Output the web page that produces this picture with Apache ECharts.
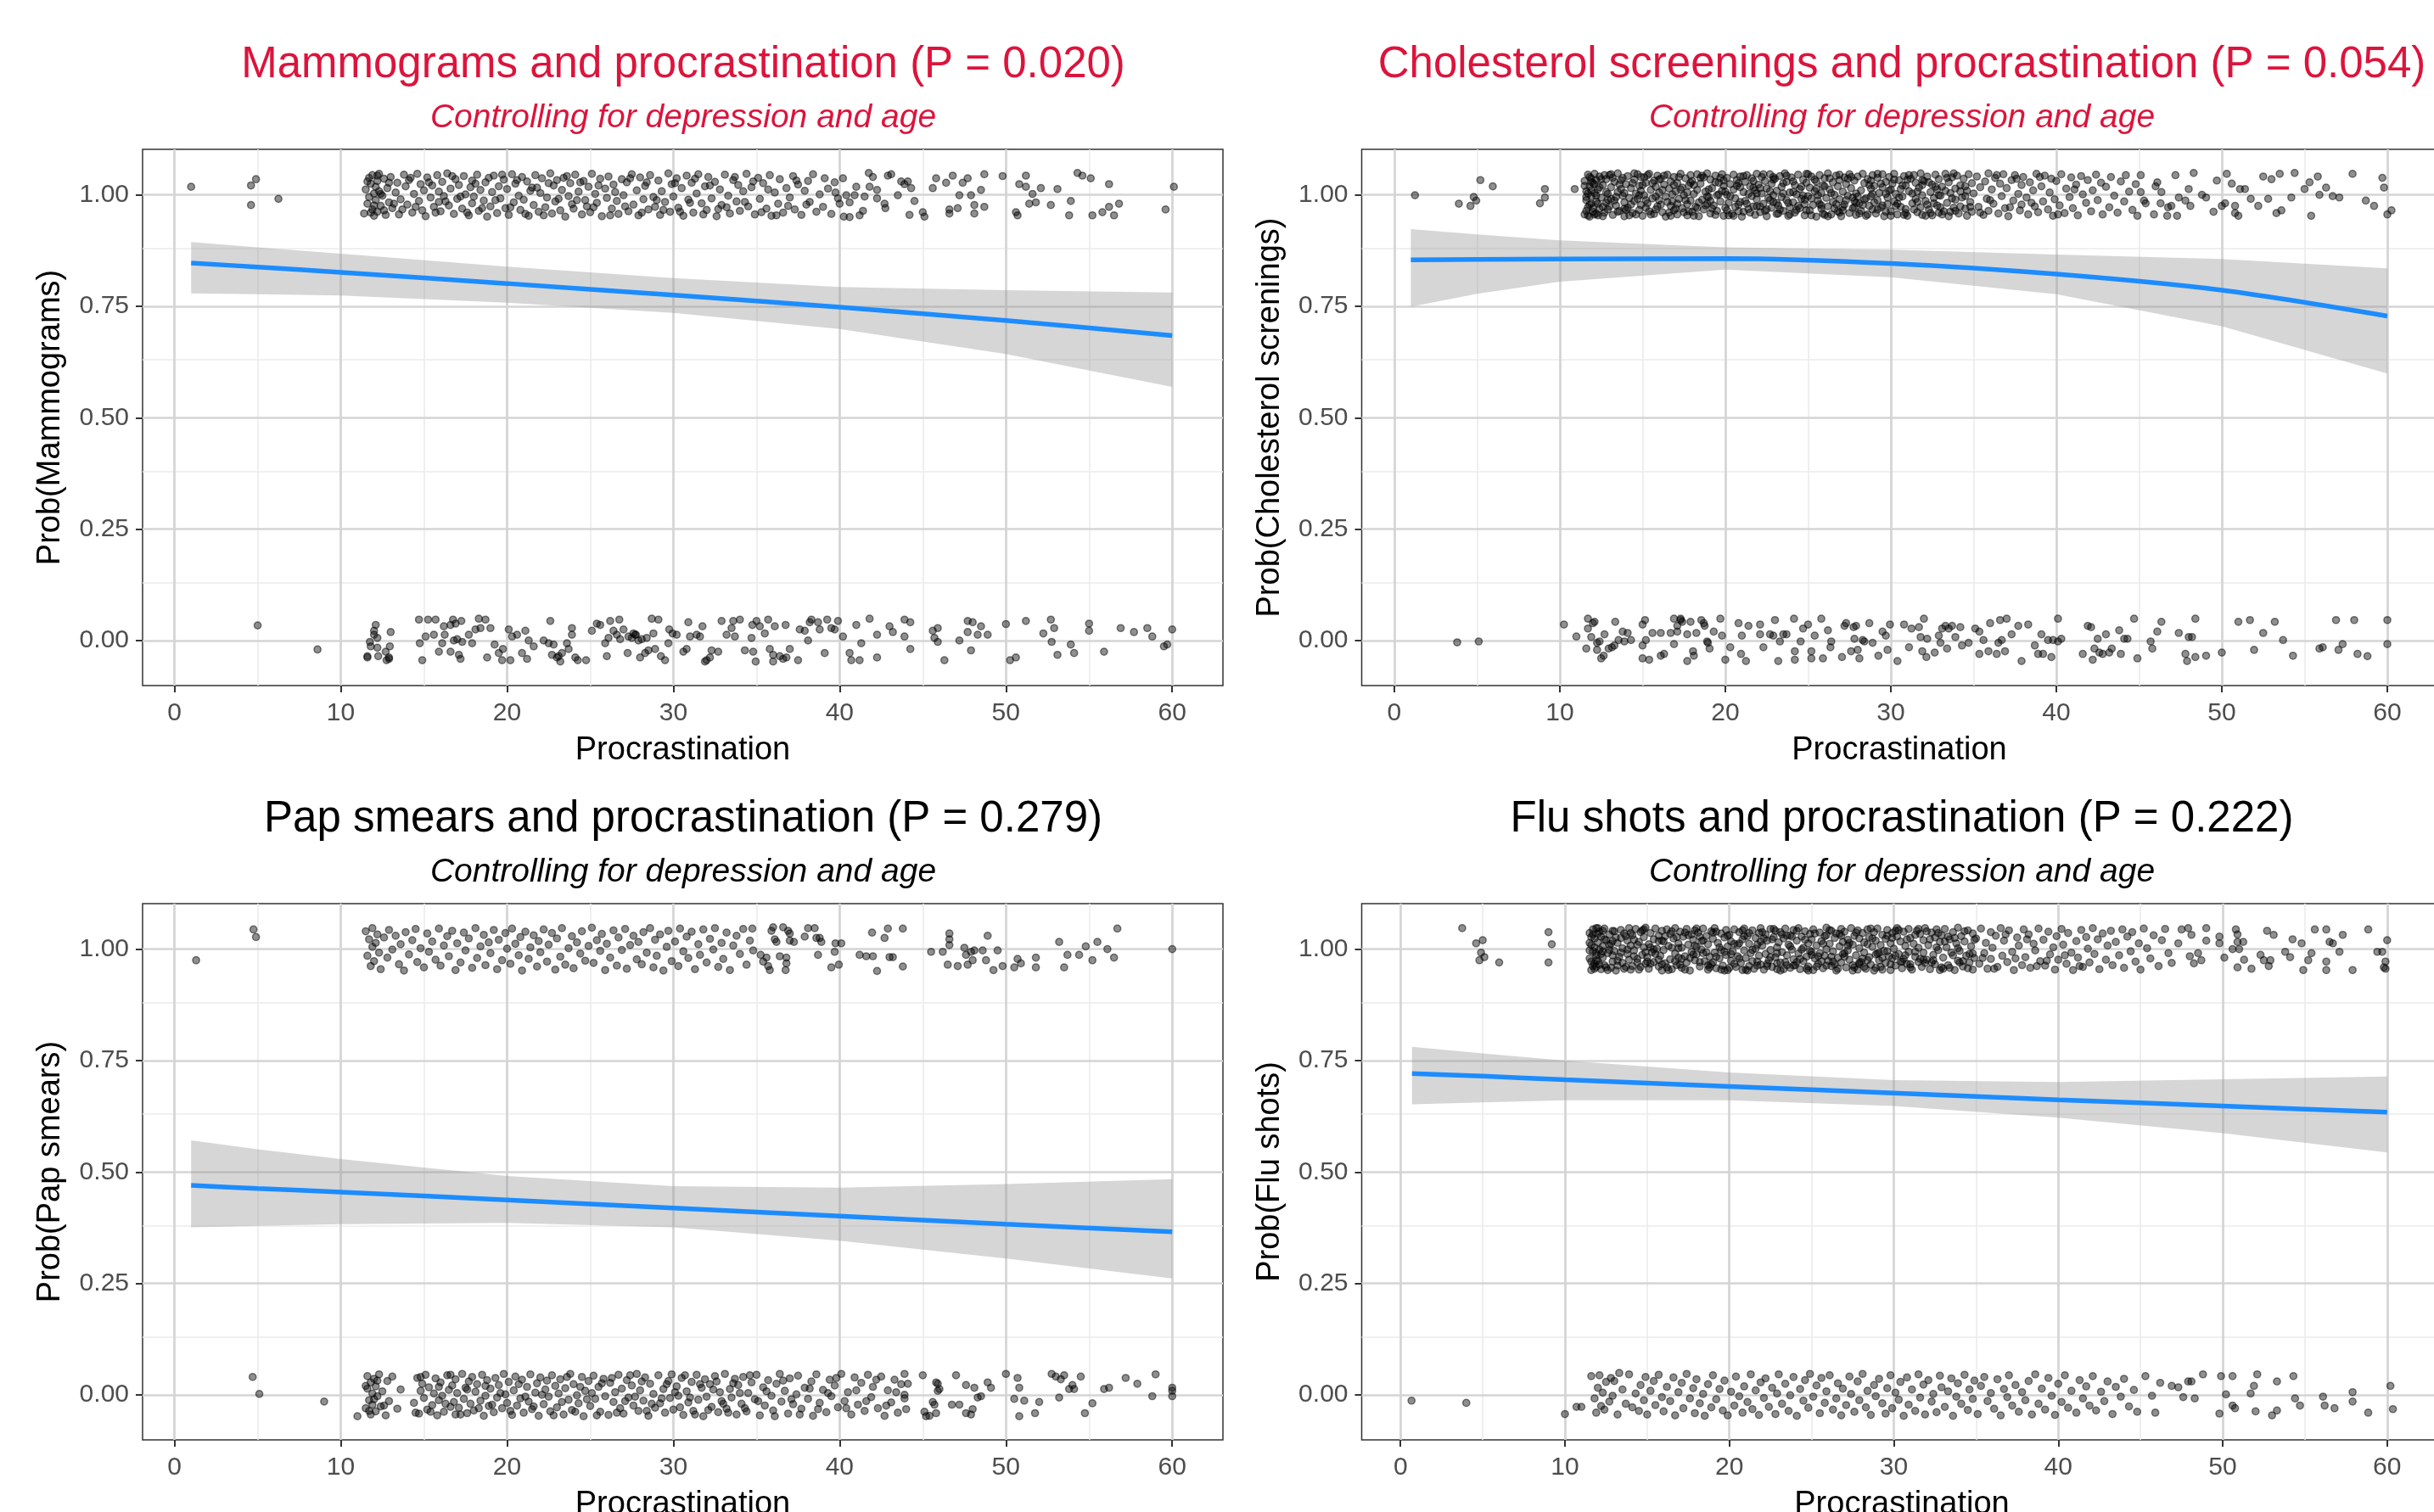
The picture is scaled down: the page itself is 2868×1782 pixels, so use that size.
<!DOCTYPE html>
<html>
<head>
<meta charset="utf-8">
<title>Screenings and procrastination</title>
<script src="https://cdn.jsdelivr.net/npm/echarts@6/dist/echarts.min.js"></script>
<style>
  html, body { margin: 0; padding: 0; background: #fff; }
  #chart { width: 2868px; height: 1782px; }
</style>
</head>
<body>
<div id="chart"></div>
<script>
// axis breaks
const xTicks = [0, 10, 20, 30, 40, 50, 60]
const xMinor = [5, 15, 25, 35, 45, 55]
const yTicks = [0, 0.25, 0.5, 0.75, 1]
const yMinor = [0.125, 0.375, 0.625, 0.875]

// fitted probability + ribbon
const fitX = [1, 5, 10, 20, 30, 40, 50, 60]
const mamFit = [0.847, 0.838, 0.826, 0.801, 0.775, 0.748, 0.718, 0.684]
const mamLo = [0.779, 0.777, 0.774, 0.758, 0.735, 0.699, 0.643, 0.569]
const mamHi = [0.894, 0.882, 0.868, 0.839, 0.813, 0.793, 0.786, 0.781]
const cholFit = [0.854, 0.855, 0.856, 0.857, 0.846, 0.822, 0.786, 0.728]
const cholLo = [0.749, 0.778, 0.805, 0.832, 0.815, 0.777, 0.705, 0.599]
const cholHi = [0.923, 0.911, 0.898, 0.882, 0.877, 0.866, 0.856, 0.835]
const papFit = [0.470, 0.463, 0.455, 0.437, 0.419, 0.401, 0.383, 0.366]
const papLo = [0.376, 0.379, 0.383, 0.386, 0.376, 0.346, 0.306, 0.261]
const papHi = [0.571, 0.551, 0.529, 0.491, 0.468, 0.465, 0.473, 0.484]
const fluFitX = [0.7, 5, 10, 20, 30, 40, 50, 60]
const fluFit = [0.721, 0.715, 0.707, 0.692, 0.677, 0.662, 0.648, 0.634]
const fluLo = [0.652, 0.656, 0.661, 0.661, 0.648, 0.622, 0.587, 0.544]
const fluHi = [0.781, 0.766, 0.750, 0.723, 0.706, 0.702, 0.708, 0.714]

// jittered responses: procrastination, offset from 1 (yes) or 0 (no) in thousandths
const mamYes = [
  1.0,18, 4.6,21, 4.9,35, 4.6,-23, 6.25,-9,
  11.4,-42, 11.5,12, 11.6,-20, 11.7,38, 11.7,-5, 11.8,25, 11.9,-33, 11.9,44, 12.0,3, 12.0,-47,
  12.1,18, 12.1,-12, 12.2,31, 12.2,-38, 12.3,8, 12.3,47, 12.4,-25, 12.5,-2, 12.6,36, 12.7,-45, 12.8,15, 12.9,-17,
  13.0,40, 13.1,-30, 13.3,5, 13.4,27, 13.5,-44, 13.6,-10, 13.8,45, 13.9,19,
  14.0,-22, 14.1,33, 14.3,-40, 14.4,2, 14.6,47, 14.7,-14, 14.8,24, 14.9,-35,
  15.0,10, 15.1,-48, 15.2,39, 15.4,-6, 15.5,21, 15.6,-27, 15.8,44, 15.9,-16, 15.9,7,
  16.0,-37, 16.1,29, 16.2,-3, 16.4,48, 16.5,-24, 16.6,14, 16.8,-43, 16.9,35,
  17.0,-9, 17.1,22, 17.3,-31, 17.4,42, 17.5,1, 17.7,-46, 17.8,17, 17.9,-19, 17.9,32,
  18.0,-4, 18.2,45, 18.3,-36, 18.4,11, 18.6,-13, 18.7,28, 18.8,-49, 18.9,38,
  19.0,-26, 19.1,6, 19.2,43, 19.4,-41, 19.5,19, 19.6,-8, 19.8,34, 19.9,-30,
  20.0,13, 20.1,-45, 20.3,46, 20.4,-17, 20.5,25, 20.7,-2, 20.8,-34, 20.9,40,
  21.0,-11, 21.2,30, 21.3,-47, 21.4,9, 21.6,-23, 21.7,44, 21.8,16, 21.9,-38,
  22.0,4, 22.1,37, 22.3,-28, 22.4,-6, 22.6,48, 22.7,-42, 22.8,21, 22.9,-15,
  23.0,33, 23.2,-35, 23.3,11, 23.5,-49, 23.6,42, 23.7,-3, 23.8,26, 23.9,-21,
  24.1,45, 24.2,-12, 24.3,7, 24.5,-44, 24.6,31, 24.8,-26, 24.9,18,
  25.0,-39, 25.1,47, 25.3,2, 25.4,-18, 25.6,36, 25.7,-48, 25.9,14,
  26.0,-7, 26.1,41, 26.3,-31, 26.4,23, 26.6,-14, 26.7,-43, 26.9,35,
  27.0,-1, 27.2,28, 27.3,-37, 27.5,46, 27.6,-22, 27.8,10, 27.9,-46,
  28.0,39, 28.2,-10, 28.3,20, 28.5,-33, 28.6,44, 28.8,-5, 28.9,-27,
  29.1,32, 29.2,-45, 29.3,8, 29.5,-16, 29.7,48, 29.8,-38, 29.9,24,
  30.0,-4, 30.2,37, 30.3,-29, 30.5,15, 30.6,-47, 30.8,43, 30.9,-11,
  31.1,27, 31.2,-40, 31.4,3, 31.5,46, 31.7,-19, 31.9,19,
  32.0,-34, 32.1,40, 32.3,-8, 32.5,29, 32.6,-48, 32.8,12, 32.9,-23,
  33.1,45, 33.3,-2, 33.4,-42, 33.6,33, 33.8,-15, 33.9,22,
  34.0,-36, 34.2,8, 34.4,47, 34.5,-26, 34.7,17, 34.9,-44,
  35.1,38, 35.2,-9, 35.4,26, 35.6,-31, 35.8,44, 35.9,-47,
  36.1,5, 36.3,-20, 36.4,35, 36.6,-40, 36.8,15,
  37.0,-6, 37.2,42, 37.3,-33, 37.5,23, 37.7,-45, 37.9,9,
  38.1,31, 38.2,-16, 38.4,46, 38.6,-38, 38.8,1,
  39.0,-27, 39.1,37, 39.3,14, 39.5,-43, 39.7,28, 39.9,-8,
  40.2,37, 40.4,-1, 40.6,-17, 41.0,18, 41.2,-46, 41.4,-36, 41.75,49, 42.0,40, 42.25,11, 42.7,-20,
  42.9,43, 43.1,46, 43.7,30, 43.9,24, 44.1,30, 44.3,15, 45.0,-39, 39.75,5, 40.0,-20, 40.25,-49,
  42.25,-8, 41.8,18, 40.9,-1, 41.5,-4, 42.75,-30, 40.6,-50, 43.5,-1, 44.5,-14,
  44.2,-45, 45.1,-49, 45.6,15, 45.8,37, 46.4,27, 46.6,-42, 46.8,43, 46.6,-33, 47.1,-30, 47.2,-1,
  47.4,27, 47.7,37, 47.9,-1, 48.1,-42, 48.1,-23, 48.5,11, 48.7,46, 48.7,-27, 49.8,42, 50.6,-39,
  50.7,-46, 50.8,24, 51.2,43, 51.2,18, 51.4,-20, 51.6,2, 51.8,-17, 52.1,15, 52.7,-23, 53.1,13,
  53.8,-46, 53.9,-14, 54.3,49, 54.6,43, 55.1,37, 55.2,-46, 55.8,-39, 56.2,24, 56.2,-27, 56.5,-46,
  56.8,-20, 59.6,-33, 60.1,18,
  11.6,30, 11.8,-40, 12.0,-24, 12.2,43, 12.4,2, 12.6,-35, 12.9,27, 13.2,-20, 13.7,-33, 14.2,38,
  14.5,-27, 15.3,28, 15.7,-40, 16.3,-15, 16.7,42, 17.2,-4, 17.6,-40, 18.1,25, 18.5,-30, 19.3,-12,
  19.7,45, 20.2,-28, 20.6,33, 21.1,-43, 21.5,16, 22.2,-46, 22.5,26, 23.1,-9, 23.4,38, 24.0,-31,
  24.4,28, 24.7,-12, 25.2,-28, 25.5,21, 26.2,-46, 26.5,6, 27.1,-26, 27.4,37, 28.1,-40, 28.4,28,
  29.0,-12, 29.4,-34, 30.1,26, 30.4,-38, 31.0,-18, 31.3,36, 31.8,-44, 32.2,21, 32.7,-32, 33.2,-28,
  33.7,40, 34.3,-16, 34.8,30, 35.3,-39, 35.7,12, 36.2,-46, 36.9,-25, 37.4,32, 38.0,-22
]
const mamNo = [
  5.0,34, 8.6,-20, 11.6,-35, 11.6,-38, 11.75,-3, 11.8,-13, 12.0,13, 12.0,22, 12.1,35, 12.2,6,
  12.2,-16, 12.25,-35, 12.7,-25, 12.75,-44, 12.9,-38, 12.95,-13, 13.0,19, 12.9,-41, 14.7,47, 14.75,-6,
  14.9,-44, 15.1,9, 15.25,47, 15.6,13, 15.7,47, 15.9,-25, 16.1,-6, 16.2,32, 16.25,13, 16.6,35,
  16.6,-25, 16.75,47, 16.8,0, 16.9,38, 17.0,3, 17.1,-32, 17.2,-41, 17.25,44, 17.3,-3, 17.7,13,
  17.9,-6, 18.1,25, 18.3,49, 18.4,28, 18.7,47, 18.8,-38, 19.0,28, 19.25,-9, 19.5,-28, 19.7,-44,
  19.75,-19, 20.1,25, 20.2,-44, 20.3,9, 20.6,13, 20.9,-28, 21.1,22, 21.2,-41, 21.3,0, 21.6,-13,
  22.2,0, 22.5,-6, 22.6,44, 22.7,-32, 22.8,-9, 23.0,-38, 23.1,-35, 23.2,-47, 23.3,-28, 23.6,-6,
  23.7,-19, 23.9,28, 23.9,13, 24.1,-38, 24.25,-44, 24.75,-44, 25.1,22, 25.4,38, 25.6,35, 25.9,-6,
  26.0,-35, 26.1,6, 26.2,44, 26.4,22, 26.6,13, 26.75,47, 26.8,3, 27.0,25, 27.25,-28, 27.3,9,
  27.5,6, 27.6,16, 27.7,13, 27.75,13, 27.9,0, 28.0,-38, 28.1,3, 28.3,-28, 28.4,6, 28.5,-22,
  28.7,49, 28.8,16, 28.9,-19, 29.1,47, 29.25,-35, 29.5,-44, 29.7,-6, 29.75,25, 29.95,16, 30.2,13,
  30.6,-25, 30.8,-19, 30.9,41, 31.0,9, 31.4,13, 31.6,9, 31.75,32, 31.9,-47, 32.0,-44, 32.2,-38,
  32.3,-22, 32.7,-25, 32.9,44, 33.2,13, 33.5,28, 33.6,44, 33.7,9, 34.0,47, 34.3,-22, 34.7,6,
  34.75,35, 34.8,-25, 34.95,-47, 35.0,44, 35.2,32, 35.5,16, 35.7,47, 35.8,-19, 36.0,-47, 36.0,-32,
  36.1,32, 36.4,-35, 36.6,-41, 36.75,35, 36.8,-38, 37.0,-19, 37.5,-44, 37.6,25, 37.9,22, 38.1,0,
  38.2,41, 38.3,47, 38.7,41, 38.8,25, 39.1,-28, 39.25,47, 39.5,28, 39.7,25, 39.9,44, 40.2,9,
  40.6,-28, 40.7,-44, 41.0,35, 41.2,-44, 41.3,-6, 41.8,49, 42.25,-38, 42.25,13, 43.0,32, 43.2,19,
  43.9,47, 43.9,9, 44.25,41, 44.25,-19, 45.6,22, 45.7,6, 45.9,28, 45.9,-3, 46.3,-44, 47.2,0,
  47.7,44, 47.7,19, 47.9,-22, 48.0,41, 48.3,13, 48.5,32, 48.9,13, 50.0,37, 50.25,-44, 50.6,-38,
  51.2,44, 52.25,16, 52.7,47, 52.75,-3, 52.9,28, 53.1,-32, 53.9,-9, 54.1,-28, 55.0,38, 55.0,22,
  55.9,-25, 56.9,28, 57.7,19, 58.5,28, 58.8,9, 59.5,-13, 59.7,-9, 60.0,25
]
const cholYes = [
  1.25,-1, 3.9,-20, 4.6,-25, 4.8,-5, 4.95,-13, 5.2,33, 5.95,19, 8.8,-19, 9.1,13, 9.1,-6, 10.9,13,
  11.5,-44, 11.5,31, 11.6,-12, 11.6,8, 11.7,45, 11.7,-28, 11.8,19, 11.8,-49, 11.9,-3, 11.9,37, 11.9,-20,
  12.0,26, 12.0,-38, 12.1,4, 12.1,47, 12.2,-15, 12.2,33, 12.3,-46, 12.3,12, 12.4,-31, 12.4,41, 12.5,-6, 12.6,22, 12.7,-40, 12.8,35, 12.8,-18, 12.9,2, 12.9,-33,
  13.0,44, 13.1,-9, 13.1,17, 13.2,-45, 13.3,29, 13.4,-24, 13.5,6, 13.5,48, 13.6,-36, 13.7,13, 13.8,-2, 13.8,38, 13.9,-17, 13.9,-48,
  14.0,24, 14.1,-29, 14.1,42, 14.2,-7, 14.3,15, 14.4,-41, 14.5,34, 14.5,-14, 14.6,3, 14.7,46, 14.8,-34, 14.8,20, 14.9,-23, 14.9,9,
  15.0,-47, 15.1,39, 15.1,-1, 15.2,27, 15.3,-19, 15.4,47, 15.4,-37, 15.5,11, 15.6,-8, 15.7,32, 15.7,-43, 15.8,18, 15.9,-26, 15.9,43,
  16.0,-12, 16.0,5, 16.1,36, 16.2,-39, 16.3,23, 16.4,-4, 16.4,-49, 16.5,45, 16.6,14, 16.7,-25, 16.7,30, 16.8,-15, 16.9,40, 16.9,-35,
  17.0,8, 17.1,-44, 17.1,26, 17.2,-9, 17.3,47, 17.4,-30, 17.4,16, 17.5,-1, 17.6,37, 17.7,-21, 17.7,-46, 17.8,21, 17.9,44, 17.9,-13,
  18.0,-38, 18.0,31, 18.1,2, 18.2,-27, 18.3,46, 18.3,11, 18.4,-48, 18.5,25, 18.6,-11, 18.7,39, 18.7,-33, 18.8,7, 18.9,-20, 18.9,48,
  19.0,-5, 19.1,34, 19.1,-42, 19.2,15, 19.3,-24, 19.4,43, 19.5,-1, 19.5,-36, 19.6,27, 19.7,-15, 19.8,9, 19.8,46, 19.9,-47, 19.9,20,
  20.0,-29, 20.1,38, 20.1,0, 20.2,-18, 20.3,24, 20.4,-43, 20.5,45, 20.5,12, 20.6,-8, 20.7,33, 20.8,-37, 20.8,-22, 20.9,17, 20.9,41,
  21.0,-49, 21.1,6, 21.2,29, 21.2,-14, 21.3,44, 21.4,-32, 21.5,19, 21.6,-3, 21.6,37, 21.7,-26, 21.8,10, 21.8,-45, 21.9,47, 21.9,-10,
  22.0,23, 22.1,-39, 22.2,3, 22.2,40, 22.3,-20, 22.4,31, 22.5,-48, 22.5,14, 22.6,-7, 22.7,46, 22.8,-29, 22.8,25, 22.9,-16, 22.9,-1,
  23.0,36, 23.1,-43, 23.1,9, 23.2,-24, 23.3,42, 23.4,-5, 23.4,18, 23.5,-36, 23.6,48, 23.7,-12, 23.7,29, 23.8,-47, 23.9,5, 23.9,-28,
  24.0,39, 24.1,-17, 24.2,22, 24.2,-40, 24.3,1, 24.4,45, 24.5,-30, 24.5,13, 24.6,-9, 24.7,34, 24.8,-46, 24.8,-21, 24.9,27, 24.9,47,
  25.0,-3, 25.1,-35, 25.1,16, 25.2,41, 25.3,-23, 25.4,8, 25.5,-49, 25.5,30, 25.6,-13, 25.7,44, 25.8,-31, 25.8,4, 25.9,21, 25.9,-42,
  26.0,37, 26.1,-7, 26.2,-26, 26.2,48, 26.3,12, 26.4,-44, 26.5,28, 26.5,-16, 26.6,0, 26.7,43, 26.8,-37, 26.8,19, 26.9,-10, 26.9,33,
  27.0,-48, 27.1,7, 27.2,39, 27.2,-22, 27.3,24, 27.4,-2, 27.5,-41, 27.5,46, 27.6,15, 27.7,-30, 27.8,32, 27.8,-14, 27.9,3, 27.9,-45,
  28.0,41, 28.1,-19, 28.2,10, 28.2,-36, 28.3,47, 28.4,26, 28.5,-8, 28.5,-47, 28.6,35, 28.7,-25, 28.8,14, 28.8,-3, 28.9,44, 28.9,-33,
  29.0,20, 29.1,-42, 29.2,38, 29.2,-12, 29.3,4, 29.4,-28, 29.5,46, 29.5,17, 29.6,-48, 29.7,29, 29.8,-6, 29.8,-21, 29.9,40, 29.9,9,
  30.0,-37, 30.1,25, 30.2,-15, 30.2,47, 30.3,2, 30.4,-44, 30.5,33, 30.6,-27, 30.6,13, 30.7,-4, 30.8,42, 30.9,-32, 30.9,21,
  31.0,-47, 31.1,8, 31.2,36, 31.3,-19, 31.4,44, 31.5,-9, 31.5,27, 31.6,-39, 31.7,16, 31.8,-28, 31.8,48, 31.9,-1, 31.9,-45,
  32.0,31, 32.1,-14, 32.2,41, 32.3,-33, 32.4,6, 32.5,-46, 32.5,23, 32.6,-7, 32.7,45, 32.8,-24, 32.8,12, 32.9,-40, 32.9,35,
  33.0,-2, 33.1,18, 33.2,-37, 33.3,47, 33.4,-18, 33.5,28, 33.5,-48, 33.6,4, 33.7,39, 33.8,-29, 33.9,14, 33.9,-11,
  34.0,43, 34.1,-42, 34.2,21, 34.3,-6, 34.4,36, 34.5,-31, 34.6,9, 34.6,-47, 34.7,46, 34.8,-16, 34.9,26, 34.9,-38,
  35.0,3, 35.2,41, 35.3,-27, 35.4,17, 35.6,-45, 35.7,30, 35.8,-9, 35.9,48, 35.9,-36,
  36.1,12, 36.2,-20, 36.3,38, 36.5,-42, 36.6,25, 36.7,-3, 36.8,46, 36.9,-30,
  37.0,15, 37.1,-48, 37.3,33, 37.4,-13, 37.5,44, 37.7,2, 37.8,-35, 37.9,22, 37.9,-22,
  38.0,40, 38.2,-6, 38.3,-44, 38.4,28, 38.6,10, 38.7,-26, 38.8,47, 38.9,-39,
  39.1,19, 39.2,-15, 39.3,43, 39.5,-33, 39.6,5, 39.7,36, 39.8,-47, 39.9,-10,
  40.0,31, 40.2,-24, 40.3,46, 40.5,-41, 40.6,14, 40.8,-5, 40.9,39,
  41.0,-30, 41.2,23, 41.3,-46, 41.5,42, 41.6,1, 41.8,-18, 41.9,33,
  42.1,-37, 42.2,10, 42.4,45, 42.5,-12, 42.7,27, 42.8,-44,
  43.0,18, 43.2,-28, 43.3,40, 43.5,-2, 43.7,-40, 43.9,30,
  44.1,-15, 44.2,44, 44.4,7, 44.6,-34, 44.8,24, 44.9,-47,
  45.1,44, 45.1,6, 45.3,-13, 45.4,-19, 45.9,-44, 46.0,19, 46.1,28, 46.3,-19, 46.35,6, 46.7,-47,
  46.75,-28, 46.95,-25, 47.2,44, 47.3,-47, 47.4,-6, 47.8,-13, 48.0,13, 48.1,-25, 48.3,49, 48.8,0,
  49.05,-6, 49.5,-38, 49.7,32, 50.0,-25, 50.2,-19, 50.3,47, 50.6,25, 50.8,-25, 50.8,-41, 51.0,-47,
  51.1,13, 51.4,13, 51.75,-9, 52.2,-25, 52.5,41, 52.8,-9, 53.0,35, 53.3,-41, 53.5,47, 53.6,-35,
  54.2,-6, 54.4,49, 55.0,13, 55.3,28, 55.4,-47, 55.8,41, 55.9,0, 56.3,16, 56.7,-3, 57.1,-6,
  57.9,47, 58.7,-13, 59.2,-25, 59.7,38, 59.8,16, 60.0,-44, 60.25,-35,
  11.6,-36, 11.7,3, 11.8,-22, 11.9,29, 12.1,-44, 12.2,-2, 12.4,17, 12.6,-27, 12.7,44, 12.9,-11,
  13.2,38, 13.4,-5, 13.6,23, 13.9,-31, 14.2,-46, 14.4,26, 14.7,-9, 14.9,40, 15.2,-29, 15.5,-44,
  15.8,-4, 16.1,-22, 16.3,43, 16.6,-40, 16.8,1, 17.0,-31, 17.3,12, 17.6,-12, 17.8,-37, 18.1,22,
  18.4,-17, 18.6,43, 18.9,-4, 19.2,-31, 19.4,28, 19.7,38, 20.0,7, 20.2,-46, 20.6,-27, 20.8,26,
  21.1,-38, 21.4,2, 21.7,16, 21.9,-26, 22.1,15, 22.4,-36, 22.7,-12, 22.9,34, 23.2,-42, 23.5,26,
  23.8,-18, 24.1,6, 24.4,-25, 24.7,-2, 24.9,-35, 25.2,-8, 25.5,14, 25.7,-21, 26.0,-45, 26.3,37,
  26.6,-31, 26.9,-40, 27.1,-27, 27.4,36, 27.7,-6, 27.9,-18, 28.1,-42, 28.4,-11, 28.7,22, 28.9,2,
  29.2,-33, 29.4,25, 29.7,-38, 30.0,12, 30.3,-25, 30.5,-6, 30.8,-45, 31.0,34, 31.3,3, 31.6,-16,
  31.9,22, 32.2,-22, 32.4,-41, 32.7,18, 33.0,-28, 33.3,9, 33.6,-38, 33.8,48, 34.2,-26, 34.5,-3,
  11.5,20, 11.6,-5, 11.7,-46, 11.8,40, 11.9,10, 12.0,-30, 12.1,24, 12.2,-42, 12.3,-20, 12.5,35,
  12.6,-48, 12.8,6, 13.0,-26, 13.1,46, 13.3,-13, 13.5,-38, 13.7,33, 13.9,4, 14.0,-34, 14.3,-22,
  14.5,48, 14.6,-44, 14.8,-1, 15.0,22, 15.2,-12, 15.3,44, 15.6,26, 15.8,-33, 16.0,34, 16.2,11,
  16.5,-16, 16.7,-47, 16.9,22, 17.1,-20, 17.2,40, 17.5,-39, 17.7,5, 17.9,27, 18.1,-47, 18.3,-30,
  18.5,38, 18.8,-24, 19.0,12, 19.1,-14, 19.4,-45, 19.6,1, 19.9,32, 20.1,-35, 20.3,-3, 20.5,-47,
  20.7,20, 20.9,-16, 21.1,42, 21.3,-20, 21.5,-40, 21.7,31, 21.9,3, 22.1,-26, 22.3,46, 22.5,-33,
  22.7,8, 22.9,40, 23.1,-18, 23.3,-33, 23.5,3, 23.7,43, 23.9,-44, 24.1,30, 24.3,-34, 24.6,18,
  24.8,-11, 25.0,46, 25.2,-46, 25.4,34, 25.6,-1, 25.8,-24, 26.0,19, 26.2,-48, 26.4,4, 26.7,-21,
  26.9,45, 27.1,-35, 27.3,-12, 27.6,40, 27.8,-28, 28.0,-4, 28.3,-23, 28.6,-44, 28.8,32, 29.0,-17,
  29.2,47, 29.5,-24, 29.7,2, 30.0,-47, 30.2,34, 30.4,-20, 30.7,21, 30.9,-41, 31.1,44, 31.4,-33,
  31.6,7, 31.9,33, 32.1,-47, 32.3,28, 32.6,-19, 32.9,-1, 33.1,-44, 33.4,38, 33.7,-8, 33.9,-36,
  34.2,8, 34.5,19, 34.8,-27, 35.4,-40, 36.0,-12, 36.4,44, 37.2,-28, 37.6,36, 38.5,-18, 39.0,40,
  40.1,-44, 41.1,12
]
const cholNo = [
  3.8,-4, 5.1,-2, 10.25,36, 11.0,9,
  11.7,49, 11.7,27, 11.6,-18, 11.9,8, 12.0,39, 12.1,42, 12.25,-5, 12.25,-21, 12.4,-2, 12.5,-40,
  12.65,-34, 12.7,14, 12.95,-18, 13.15,-15, 13.3,-11, 13.35,42, 13.55,1, 13.8,20, 13.9,-2, 14.1,17,
  14.3,1, 15.0,36, 15.0,-11, 15.0,-40, 15.15,46, 15.2,1, 15.4,-43, 15.6,17, 16.1,17, 16.1,-34,
  16.3,-30, 16.7,17, 16.9,49, 16.9,-8, 17.1,33, 17.1,20, 17.3,49, 17.3,46, 17.4,42, 17.7,14,
  17.7,-46, 17.9,42, 18.05,-24, 18.1,-34, 18.25,17, 18.55,46, 18.7,39, 18.75,33, 18.9,-2, 18.95,-5,
  19.05,-18, 19.3,20, 19.7,49, 19.8,11, 20.0,-43, 20.3,-15, 20.8,39, 20.95,-30, 21.0,11, 21.25,-46,
  21.4,33, 22.1,36, 22.1,14, 22.3,-15, 22.7,14, 22.9,11, 23.0,46, 23.2,-46, 23.3,-2, 23.5,14,
  23.7,14, 24.15,49, 24.2,-24, 24.2,-43, 24.55,-2, 24.7,27, 25.0,36, 25.2,-24, 25.2,-40, 25.4,11,
  25.8,49, 25.9,-40, 26.2,23, 26.35,-15, 26.4,-2, 27.05,-37, 27.2,33, 27.3,39, 27.6,-24, 27.75,30,
  27.8,4, 27.9,33, 28.0,-21, 28.1,-40, 28.3,1, 28.4,-2, 28.7,39, 28.9,-5, 29.25,-34, 29.5,20,
  29.7,11, 29.8,-21, 29.95,36, 30.4,-46, 30.8,36, 31.1,-15, 31.25,27, 31.7,30, 31.8,8, 31.9,-24,
  32.0,49, 32.15,-37, 32.2,4, 32.65,-27, 32.9,11, 33.0,-5, 33.1,27, 33.3,33, 33.4,-18, 33.5,27,
  33.7,33, 33.9,8, 34.2,30, 34.3,-11, 34.7,-5, 35.1,27, 35.35,-30, 35.35,20, 35.6,1, 35.9,-24,
  36.0,39, 36.4,-30, 36.5,-5, 36.6,46, 36.7,1, 36.9,-24, 37.0,49, 37.3,14, 37.7,33, 37.9,-46,
  38.3,36, 38.7,-11, 38.9,-30, 39.1,14, 39.2,-30, 39.5,1, 39.7,-37, 39.8,1, 40.1,-2, 40.1,49,
  40.3,4, 41.6,-30, 41.9,33, 42.1,30, 42.2,-43, 42.3,-18, 42.5,4, 42.6,-27, 42.8,-30, 43.0,14,
  43.2,-27, 43.35,-18, 43.8,23, 43.9,-30, 44.1,4, 44.3,4, 44.7,49, 44.9,-40, 45.7,-2, 45.8,-18,
  46.1,20, 46.35,42, 47.4,17, 47.8,-30, 48.0,8, 48.2,8, 47.9,-46, 48.4,-37, 48.4,49, 49.05,-34,
  50.0,-27, 51.0,42, 51.7,46, 51.95,-21, 52.5,17, 53.2,42, 53.7,1, 54.3,-34, 55.9,-18, 56.1,-15,
  57.05,-21, 56.9,46, 57.3,-8, 58.0,46, 58.2,-30, 58.8,-35, 60.0,46, 60.0,-8
]
const papYes = [
  1.3,-25, 4.75,44, 4.9,27,
  11.5,40, 11.6,-15, 11.7,22, 11.8,-38, 11.9,5, 11.9,47,
  12.0,-27, 12.1,14, 12.2,33, 12.3,-8, 12.4,-45, 12.6,26, 12.8,-19, 12.9,43,
  13.1,-1, 13.3,30, 13.5,-34, 13.6,11, 13.8,-48, 13.9,38,
  14.1,-12, 14.3,20, 14.5,45, 14.6,-29, 14.8,2,
  15.0,-41, 15.2,35, 15.3,-6, 15.5,17, 15.7,-24, 15.9,46,
  16.0,-37, 16.2,8, 16.4,29, 16.5,-16, 16.7,41, 16.9,-47,
  17.0,13, 17.2,-30, 17.4,37, 17.5,-3, 17.7,24, 17.9,-42,
  18.1,47, 18.2,-20, 18.4,6, 18.6,32, 18.7,-36, 18.9,15,
  19.0,-9, 19.2,43, 19.4,-45, 19.5,21, 19.7,-25, 19.9,36,
  20.0,1, 20.2,-33, 20.3,46, 20.5,12, 20.7,-14, 20.8,27, 20.9,-48,
  21.1,39, 21.3,-22, 21.4,4, 21.6,31, 21.8,-39, 21.9,18,
  22.0,-7, 22.2,44, 22.4,-28, 22.5,10, 22.7,36, 22.9,-46,
  23.0,24, 23.2,-17, 23.3,47, 23.5,-35, 23.7,2, 23.9,29,
  24.0,-43, 24.2,15, 24.4,-10, 24.5,40, 24.7,-26, 24.9,7,
  25.1,48, 25.2,-31, 25.4,20, 25.6,-4, 25.7,34, 25.9,-47,
  26.0,12, 26.2,-19, 26.4,42, 26.6,-37, 26.7,26, 26.9,-2,
  27.1,45, 27.2,-44, 27.4,9, 27.6,30, 27.8,-23, 27.9,16,
  28.1,-34, 28.2,38, 28.4,-8, 28.6,47, 28.8,-41, 28.9,21,
  29.0,-15, 29.2,33, 29.4,-48, 29.6,5, 29.7,41, 29.9,-27,
  30.1,17, 30.3,-38, 30.4,46, 30.6,-5, 30.8,28, 30.9,-20,
  31.1,39, 31.3,-45, 31.5,11, 31.6,-13, 31.8,44,
  32.0,-30, 32.2,23, 32.4,-1, 32.5,47, 32.7,-40, 32.9,14,
  33.0,-22, 33.2,37, 33.4,-47, 33.6,8, 33.8,30,
  34.0,-11, 34.2,45, 34.4,-35, 34.6,19, 34.8,-3,
  34.75,46, 35.25,-13, 35.4,-28, 35.6,-19, 35.7,-38, 35.8,-47, 35.9,41, 36.0,49, 36.1,22, 36.2,16,
  36.4,-16, 36.6,49, 36.75,-47, 36.8,-19, 36.8,-32, 36.9,41, 37.0,35, 37.0,19, 37.25,16, 37.9,28,
  38.1,47, 38.5,47, 38.6,25, 38.7,-13, 38.8,25, 38.9,16, 39.5,-41, 39.7,-6, 39.75,13, 39.95,-35,
  40.1,13, 41.2,-13, 41.6,-16, 42.0,-16, 41.95,37, 42.25,-49, 42.7,25, 42.9,46, 43.0,-18, 43.2,-18,
  43.8,-39, 43.8,46, 45.5,-6, 46.2,-6, 46.5,-35, 46.6,35, 46.6,22, 46.6,9, 47.1,-38, 47.5,3,
  47.6,-13, 47.7,-35, 47.9,-6, 48.0,-25, 48.1,-3, 48.6,-3, 48.8,-25, 48.9,30, 49.25,-47, 49.5,-3,
  49.8,-38, 50.5,-41, 50.7,-22, 50.9,-32, 51.8,-19, 51.8,-41, 53.2,16, 53.5,-41, 53.7,-13, 54.4,-13,
  54.8,6, 55.2,-25, 55.5,16, 56.1,0, 56.5,-19, 56.7,46, 60.0,0
]
const papNo = [
  4.7,40, 5.1,2, 9.0,-15, 11.0,-48,
  11.5,-30, 11.6,14, 11.6,42, 11.7,-12, 11.8,28, 11.8,-44, 11.9,3, 11.9,-22,
  12.0,36, 12.1,-37, 12.1,19, 12.2,-3, 12.3,46, 12.4,-26, 12.5,8, 12.7,-46, 12.8,31, 12.9,-14,
  13.1,41, 13.4,-31, 13.6,12,
  14.4,-18, 14.6,38, 14.7,-42, 14.8,9, 14.9,25,
  15.0,-7, 15.1,45, 15.2,-33, 15.3,17, 15.5,-23, 15.6,3, 15.7,37, 15.8,-46, 15.9,-12,
  16.0,28, 16.1,-2, 16.2,-38, 16.4,44, 16.5,11, 16.6,-27, 16.7,21, 16.8,-16, 16.9,-44, 16.9,35,
  17.0,4, 17.1,-29, 17.3,47, 17.4,-9, 17.5,16, 17.6,-41, 17.7,30, 17.8,-20, 17.9,40,
  18.0,-35, 18.1,7, 18.2,24, 18.4,-13, 18.5,45, 18.6,-47, 18.7,-2, 18.8,33, 18.9,-25,
  19.0,14, 19.2,-39, 19.3,38, 19.4,-6, 19.5,22, 19.7,-30, 19.8,47, 19.9,1,
  20.0,-18, 20.1,29, 20.3,-45, 20.4,10, 20.5,41, 20.6,-24, 20.8,-8, 20.9,34,
  21.0,-40, 21.2,18, 21.3,-15, 21.4,46, 21.5,-32, 21.7,5, 21.8,26, 21.9,-47,
  22.0,39, 22.2,-21, 22.3,12, 22.5,-4, 22.6,-37, 22.7,44, 22.9,20,
  23.0,-28, 23.1,3, 23.2,35, 23.4,-44, 23.5,15, 23.7,-11, 23.8,47, 23.9,-34,
  24.0,24, 24.2,-1, 24.3,-19, 24.5,40, 24.6,-48, 24.7,9, 24.9,31,
  25.0,-25, 25.2,43, 25.3,-9, 25.5,18, 25.6,-38, 25.8,36, 25.9,-3,
  26.1,-45, 26.2,27, 26.4,-16, 26.5,6, 26.7,45, 26.8,-30, 26.9,14,
  27.0,-42, 27.2,33, 27.3,-6, 27.5,21, 27.6,-24, 27.8,47, 27.9,-36,
  28.0,10, 28.2,-13, 28.3,39, 28.5,-47, 28.6,25, 28.8,2, 28.9,-29,
  29.1,44, 29.2,-19, 29.4,13, 29.5,-40, 29.7,31, 29.8,-7, 29.9,46,
  30.0,-33, 30.2,19, 30.3,-2, 30.5,38, 30.6,-45, 30.8,8, 30.9,-17,
  31.1,29, 31.2,-36, 31.4,45, 31.5,-11, 31.7,16, 31.8,-48, 31.9,35,
  32.0,-4, 32.2,24, 32.3,-27, 32.5,42, 32.7,-39, 32.8,6, 32.9,-14,
  33.1,47, 33.2,-31, 33.4,13, 33.5,-6, 33.7,36, 33.8,-44, 33.9,22,
  34.1,-20, 34.2,40, 34.4,-37, 34.5,4, 34.7,28, 34.9,-10,
  35.0,45, 35.2,-46, 35.4,17, 35.5,-24, 35.7,33, 35.9,-2,
  36.0,-35, 36.2,25, 36.4,47, 36.5,-15, 36.7,9, 36.9,-42,
  37.0,37, 37.2,-21, 37.4,1, 37.5,43, 37.7,-31, 37.9,16,
  38.1,-9, 38.3,30, 38.4,-47, 38.6,46, 38.8,-18,
  39.0,11, 39.2,-39, 39.4,34, 39.5,-3, 39.7,21, 39.9,-28,
  40.1,47, 40.3,-14, 40.5,6, 40.7,-44, 40.9,39,
  41.1,-22, 41.3,27, 41.5,-36, 41.7,45, 41.9,-5,
  42.0,18, 42.3,-30, 42.5,41, 42.7,-47, 42.9,10,
  43.1,-17, 43.3,34, 43.5,-40, 43.7,24, 43.9,-8,
  43.9,47, 44.1,25, 43.9,0, 44.0,-32, 45.0,44, 45.1,-38, 45.2,-48, 45.4,-47, 45.6,-16, 45.7,-22,
  45.8,28, 45.9,25, 45.9,9, 46.0,13, 45.8,-41, 46.75,-22, 47.2,-22, 47.0,44, 47.6,22, 47.6,-41,
  47.9,-44, 48.0,-32, 48.1,16, 48.5,-3, 48.3,-6, 49.1,16, 48.9,28, 50.0,47, 50.5,-9, 50.7,38,
  50.8,16, 50.8,-48, 51.1,-13, 51.75,-41, 52.0,-16, 52.75,47, 53.0,41, 53.2,-6, 53.3,35, 53.5,44,
  53.8,13, 54.0,22, 54.1,13, 54.5,41, 54.75,-41, 55.2,-19, 55.9,13, 56.2,16, 57.2,38, 57.9,25,
  58.8,-3, 59.0,46, 60.0,16, 60.0,-3, 60.0,9,
  11.5,20, 11.7,-36, 12.0,-10, 12.2,32, 12.6,-24, 14.5,-40, 14.8,40, 15.4,-38, 15.9,18, 16.3,-20,
  16.6,45, 17.2,-44, 17.6,12, 18.3,-30, 18.7,20, 19.1,-22, 19.6,4, 20.2,-36, 20.7,24, 21.1,-4,
  21.6,-26, 22.1,0, 22.4,32, 22.8,-46, 23.3,-16, 23.6,40, 24.1,-38, 24.4,18, 24.8,-10, 25.1,4,
  25.4,-46, 25.7,26, 26.3,38, 26.6,-40, 27.1,-14, 27.4,44, 27.7,-4, 28.1,30, 28.4,-36, 28.7,-20,
  29.3,-8, 29.6,24, 30.1,6, 30.4,-28, 30.7,44, 31.0,-6, 31.3,-44, 31.6,24, 32.1,-34, 32.4,12,
  32.6,30, 33.0,-20, 33.3,-40, 33.6,26, 34.0,4, 34.3,-30, 34.6,44, 35.1,-14, 35.6,8, 36.1,-48,
  36.6,32, 37.1,-10, 37.6,-44, 38.2,14, 38.7,-32, 39.3,4, 39.8,38, 40.4,-30, 41.0,10, 41.6,-14,
  42.2,34, 42.8,-24, 43.4,6
]
const fluYes = [
  3.75,47, 4.6,13, 5.0,20, 4.9,-8, 5.1,-18, 4.8,-25, 6.0,-30, 9.0,38, 9.2,11, 9.0,-30,
  11.5,36, 11.5,-21, 11.6,-47, 11.6,9, 11.7,44, 11.7,-5, 11.8,-33, 11.8,24, 11.9,-14, 11.9,47, 11.9,-40,
  12.0,15, 12.0,-26, 12.1,39, 12.1,-1, 12.2,-45, 12.2,28, 12.3,6, 12.3,-19, 12.4,46, 12.4,-36, 12.5,20, 12.6,-9, 12.7,33, 12.8,-42, 12.8,12, 12.9,-28, 12.9,41,
  13.0,-4, 13.1,26, 13.1,-48, 13.2,14, 13.3,-17, 13.4,43, 13.5,-31, 13.5,2, 13.6,35, 13.7,-40, 13.8,19, 13.8,-11, 13.9,47, 13.9,-24,
  14.0,8, 14.1,-38, 14.1,31, 14.2,-3, 14.3,45, 14.4,-22, 14.5,16, 14.5,-46, 14.6,38, 14.7,-13, 14.8,4, 14.8,27, 14.9,-33, 14.9,48,
  15.0,-18, 15.1,11, 15.1,-44, 15.2,36, 15.3,-7, 15.4,22, 15.4,-29, 15.5,46, 15.6,1, 15.7,-39, 15.7,30, 15.8,-15, 15.9,41, 15.9,-48,
  16.0,17, 16.0,-2, 16.1,-32, 16.2,44, 16.3,7, 16.4,-23, 16.4,34, 16.5,-45, 16.6,24, 16.7,-10, 16.7,47, 16.8,-36, 16.9,13, 16.9,-19,
  17.0,39, 17.1,-42, 17.1,3, 17.2,28, 17.3,-16, 17.4,45, 17.4,-30, 17.5,10, 17.6,-48, 17.7,33, 17.7,-6, 17.8,21, 17.9,-25, 17.9,42,
  18.0,-12, 18.0,5, 18.1,37, 18.2,-39, 18.3,18, 18.3,-1, 18.4,46, 18.5,-27, 18.6,29, 18.7,-46, 18.7,11, 18.8,-17, 18.9,40, 18.9,-34,
  19.0,23, 19.1,-8, 19.1,47, 19.2,-43, 19.3,14, 19.4,-21, 19.5,35, 19.5,-2, 19.6,-37, 19.7,26, 19.8,-13, 19.8,43, 19.9,6, 19.9,-47,
  20.0,32, 20.1,-26, 20.1,17, 20.2,-5, 20.3,44, 20.4,-40, 20.5,9, 20.5,-16, 20.6,38, 20.7,-31, 20.8,22, 20.8,-47, 20.9,-3, 20.9,46,
  21.0,-20, 21.1,29, 21.2,-38, 21.2,12, 21.3,-9, 21.4,42, 21.5,-44, 21.6,25, 21.6,1, 21.7,-28, 21.8,36, 21.8,-15, 21.9,47, 21.9,-35,
  22.0,8, 22.1,-46, 22.2,33, 22.2,-11, 22.3,19, 22.4,-25, 22.5,45, 22.5,-2, 22.6,-40, 22.7,27, 22.8,-18, 22.8,41, 22.9,4, 22.9,-32,
  23.0,15, 23.1,-48, 23.1,38, 23.2,-7, 23.3,24, 23.4,-29, 23.4,46, 23.5,-14, 23.6,10, 23.7,-42, 23.7,31, 23.8,-1, 23.9,-23, 23.9,43,
  24.0,-36, 24.1,19, 24.2,-10, 24.2,47, 24.3,-45, 24.4,28, 24.5,3, 24.5,-27, 24.6,40, 24.7,-17, 24.8,13, 24.8,-39, 24.9,34, 24.9,-4,
  25.0,22, 25.1,-47, 25.1,44, 25.2,-21, 25.3,8, 25.4,-33, 25.5,37, 25.5,-9, 25.6,18, 25.7,-43, 25.8,29, 25.8,-15, 25.9,48, 25.9,0,
  26.0,-26, 26.1,12, 26.2,41, 26.2,-38, 26.3,-5, 26.4,25, 26.5,-48, 26.5,35, 26.6,-19, 26.7,6, 26.8,45, 26.8,-30, 26.9,16, 26.9,-11,
  27.0,39, 27.1,-41, 27.2,21, 27.2,-3, 27.3,-24, 27.4,47, 27.5,10, 27.5,-36, 27.6,30, 27.7,-14, 27.8,-46, 27.8,42, 27.9,2, 27.9,24,
  28.0,-29, 28.1,36, 28.2,-8, 28.2,15, 28.3,-44, 28.4,44, 28.5,-18, 28.5,27, 28.6,-35, 28.7,5, 28.8,38, 28.8,-48, 28.9,-12, 28.9,19,
  29.0,46, 29.1,-25, 29.2,9, 29.2,-40, 29.3,32, 29.4,-4, 29.5,23, 29.5,-31, 29.6,43, 29.7,-16, 29.8,-47, 29.8,13, 29.9,36, 29.9,-21,
  30.0,1, 30.1,-37, 30.2,28, 30.2,47, 30.3,-11, 30.4,17, 30.5,-43, 30.6,39, 30.6,-22, 30.7,7, 30.8,-33, 30.9,45, 30.9,-6,
  31.0,25, 31.1,-46, 31.2,12, 31.3,-17, 31.4,41, 31.5,-29, 31.5,3, 31.6,34, 31.7,-40, 31.8,20, 31.8,-8, 31.9,47,
  32.0,-24, 32.1,9, 32.2,-45, 32.3,37, 32.4,-13, 32.5,26, 32.5,-34, 32.6,44, 32.7,-2, 32.8,16, 32.9,-41, 32.9,31,
  33.0,-19, 33.1,45, 33.2,4, 33.3,-36, 33.4,22, 33.5,-8, 33.6,38, 33.7,-47, 33.8,13, 33.9,-26, 33.9,48,
  34.0,-4, 34.1,29, 34.2,-39, 34.3,17, 34.4,-15, 34.5,42, 34.6,-30, 34.7,6, 34.8,35, 34.8,-46, 34.9,-20,
  35.0,24, 35.2,-33, 35.3,46, 35.5,-9, 35.6,14, 35.7,-44, 35.9,38, 35.9,-22,
  36.0,3, 36.2,30, 36.3,-40, 36.5,47, 36.6,-15, 36.7,19, 36.9,-29,
  37.0,42, 37.2,-6, 37.3,-47, 37.5,26, 37.6,8, 37.8,-36, 37.9,44,
  38.0,-18, 38.2,33, 38.3,-42, 38.5,12, 38.6,-3, 38.8,46, 38.9,-27,
  39.1,21, 39.2,-37, 39.4,39, 39.5,-12, 39.7,4, 39.8,-46, 39.9,29,
  40.0,-24, 40.2,45, 40.3,10, 40.5,-33, 40.6,36, 40.8,-8, 40.9,-47,
  41.1,18, 41.2,-19, 41.4,43, 41.5,-40, 41.7,27, 41.8,1, 41.9,-30,
  42.1,47, 42.2,-11, 42.4,22, 42.5,-45, 42.7,35, 42.9,-24,
  43.0,8, 43.2,41, 43.3,-36, 43.5,16, 43.7,-14, 43.9,44,
  44.0,-42, 44.2,28, 44.4,-5, 44.5,38, 44.7,-28, 44.9,13,
  45.0,-46, 45.2,46, 45.4,2, 45.6,-21, 45.8,31,
  46.1,-38, 46.3,20, 46.5,45, 46.7,-9, 46.9,-31,
  47.3,13, 47.5,44, 47.9,47, 48.1,32, 48.0,-16, 48.25,-32, 48.5,-9, 48.7,-25, 49.0,47, 49.0,19,
  49.8,28, 49.8,13, 50.1,-19, 50.6,0, 50.8,44, 50.9,33, 50.9,16, 51.0,0, 50.9,-41, 51.25,16,
  51.3,-24, 51.75,-44, 52.3,-13, 52.5,-25, 52.8,-38, 52.7,41, 52.9,-25, 53.1,32, 53.8,-6, 54.1,-18,
  54.25,22, 54.8,13, 54.9,-47, 55.2,-25, 55.4,-9, 55.6,44, 56.3,44, 56.3,-28, 56.3,-47, 56.5,16,
  56.7,13, 57.1,-6, 57.3,32, 57.9,-47, 58.85,44, 59.4,-6, 59.7,-6, 59.8,-41, 59.9,-28, 60.0,20, 59.9,-44,
  11.5,-3, 11.6,27, 11.7,-38, 11.8,4, 11.9,-26, 12.0,34, 12.2,-11, 12.3,41, 12.5,-41, 12.7,-2,
  12.9,18, 13.2,-37, 13.4,-8, 13.7,29, 14.0,-46, 14.2,21, 14.4,-30, 14.7,42, 14.9,-7, 15.2,-33,
  15.4,-1, 15.7,-24, 15.9,19, 16.2,-41, 16.5,3, 16.8,27, 17.0,-35, 17.3,37, 17.6,-20, 17.9,8,
  18.2,28, 18.4,-9, 18.7,-36, 19.0,-30, 19.2,39, 19.5,-46, 19.7,-6, 20.0,-42, 20.3,12, 20.6,-21,
  20.9,29, 21.1,-48, 21.4,-27, 21.7,10, 22.0,38, 22.3,-38, 22.6,22, 22.9,-45, 23.2,33, 23.5,-36,
  23.8,28, 24.1,-29, 24.4,-1, 24.7,-44, 25.0,-13, 25.3,-39, 25.6,-27, 25.9,31, 26.2,-17, 26.4,-34,
  26.7,34, 27.0,-9, 27.3,14, 27.6,-41, 27.9,-30, 28.2,-40, 28.4,-25, 28.7,24, 29.0,-10, 29.3,-46,
  29.6,-5, 29.9,25, 30.1,41, 30.4,-28, 30.7,-14, 31.0,-34, 31.3,32, 31.6,-22, 31.9,-31, 32.2,22,
  32.4,-25, 32.7,36, 33.0,-44, 33.3,28, 33.6,-14, 33.9,2, 34.2,-27, 34.5,-43, 34.8,-10,
  11.5,14, 11.6,-28, 11.7,33, 11.8,-44, 11.9,-9, 12.0,47, 12.1,-35, 12.3,-5, 12.4,22, 12.6,-47,
  12.7,9, 12.9,-14, 13.0,40, 13.2,-26, 13.4,25, 13.6,-44, 13.8,-1, 14.0,36, 14.2,-16, 14.4,10,
  14.6,-40, 14.8,44, 15.0,-28, 15.2,4, 15.5,-11, 15.7,18, 15.9,-34, 16.1,29, 16.3,-47, 16.5,40,
  16.7,-27, 16.9,2, 17.1,-22, 17.3,-46, 17.5,31, 17.8,-12, 18.0,46, 18.2,-29, 18.4,19, 18.6,-7,
  18.8,-41, 19.0,37, 19.2,-17, 19.4,4, 19.7,-48, 19.9,30, 20.1,-11, 20.3,-33, 20.6,13, 20.8,42,
  21.0,-46, 21.2,36, 21.4,-2, 21.7,-37, 21.9,17, 22.1,24, 22.3,-33, 22.5,-18, 22.7,45, 22.9,-9,
  23.1,-30, 23.3,-45, 23.5,30, 23.7,6, 23.9,-37, 24.1,41, 24.3,-22, 24.6,21, 24.8,-48, 25.0,-6,
  25.2,35, 25.4,-16, 25.7,12, 25.9,-37, 26.1,43, 26.3,-28, 26.6,-44, 26.8,30, 27.0,-17, 27.2,8,
  27.5,-48, 27.7,37, 27.9,-34, 28.1,-21, 28.4,11, 28.6,46, 28.9,-42, 29.1,-8, 29.3,-20, 29.6,30,
  29.8,-34, 30.1,-15, 30.3,43, 30.5,-28, 30.8,22, 31.0,-41, 31.3,-6, 31.5,45, 31.8,-24, 32.0,40,
  32.3,-30, 32.6,4, 32.8,-47, 33.1,17, 33.4,-42, 33.7,25, 34.0,-30, 34.3,40, 34.6,-11, 34.9,21,
  35.4,-20, 36.1,-44, 36.8,33, 37.4,-21, 38.1,22, 38.7,-38, 39.3,-26, 40.4,-14, 41.3,-38
]
const fluNo = [
  0.67,-13, 4.0,-18, 10.0,-43, 10.7,-27, 11.0,-27,
  11.6,42, 11.8,-8, 11.9,-40, 12.0,16, 12.1,44, 12.2,-25, 12.3,5, 12.4,-33, 12.5,29, 12.7,-15, 12.8,38, 12.9,-2,
  13.0,31, 13.2,-44, 13.3,49, 13.5,12, 13.7,-20, 13.9,46,
  14.1,-28, 14.3,3, 14.5,-36, 14.6,22, 14.8,-12, 14.9,40,
  15.0,-44, 15.2,9, 15.4,31, 15.5,-23, 15.7,45, 15.9,-5,
  16.0,-37, 16.2,18, 16.4,-14, 16.6,39, 16.7,-46, 16.9,6,
  17.1,27, 17.2,-30, 17.4,47, 17.6,-8, 17.8,15, 17.9,-41,
  18.0,35, 18.2,-19, 18.4,2, 18.5,-47, 18.7,24, 18.9,-28,
  19.0,44, 19.2,-10, 19.4,13, 19.6,-35, 19.7,32, 19.9,-46,
  20.1,7, 20.3,-24, 20.4,41, 20.6,-3, 20.8,-40, 20.9,19,
  21.1,-16, 21.3,46, 21.4,-32, 21.6,10, 21.8,-45, 21.9,28,
  22.1,-7, 22.2,37, 22.4,-27, 22.6,16, 22.8,-43, 22.9,3,
  23.0,46, 23.2,-20, 23.4,25, 23.6,-36, 23.7,-1, 23.9,40,
  24.1,-47, 24.3,13, 24.5,-13, 24.6,33, 24.8,-29, 24.9,47,
  25.1,-4, 25.3,21, 25.5,-41, 25.6,38, 25.8,-18, 25.9,8,
  26.1,44, 26.3,-33, 26.5,-8, 26.6,26, 26.8,-46, 26.9,14,
  27.1,-23, 27.3,41, 27.4,2, 27.6,-38, 27.8,30, 27.9,-12,
  28.1,47, 28.3,-28, 28.4,9, 28.6,-45, 28.8,22, 28.9,-3,
  29.1,36, 29.3,-19, 29.5,-42, 29.6,15, 29.8,44, 29.9,-30,
  30.1,5, 30.3,-11, 30.4,29, 30.6,-47, 30.8,39, 30.9,-22,
  31.1,12, 31.3,-36, 31.5,46, 31.6,-6, 31.8,23, 31.9,-44,
  32.1,33, 32.3,-15, 32.4,2, 32.6,-39, 32.8,43, 32.9,17,
  33.1,-27, 33.3,8, 33.5,37, 33.6,-47, 33.8,-4, 33.9,26,
  34.1,-20, 34.3,45, 34.5,-34, 34.6,12, 34.8,-9, 34.9,32,
  35.1,-43, 35.3,20, 35.5,40, 35.7,-14, 35.9,4,
  36.1,-31, 36.3,35, 36.5,-46, 36.7,13, 36.9,-5,
  37.0,44, 37.2,-24, 37.4,22, 37.6,-38, 37.8,6,
  38.0,-12, 38.2,31, 38.4,-44, 38.6,46, 38.8,-20,
  39.0,14, 39.2,-33, 39.4,38, 39.6,-2, 39.8,-45,
  40.0,25, 40.2,-16, 40.4,44, 40.6,-29, 40.8,9,
  41.1,-40, 41.3,33, 41.5,-8, 41.7,19, 41.9,-24,
  42.1,42, 42.3,-35, 42.6,7, 42.8,-14,
  43.0,30, 43.3,-43, 43.5,18, 43.8,-4,
  44.0,36, 44.3,-26, 44.6,11, 44.8,-38,
  45.3,42, 45.7,-2, 45.9,-40, 46.2,27, 46.9,20, 47.3,17, 47.6,-5, 47.9,30, 48.1,30, 48.3,-8,
  48.8,46, 49.8,-42, 49.9,42, 50.2,1, 50.6,42, 50.6,-24, 50.75,-30, 51.7,3, 51.9,20, 52.0,-37,
  52.1,46, 53.0,-46, 53.3,30, 53.3,-35, 54.3,42, 54.4,-8, 54.7,-24, 56.1,-4, 56.2,-24, 56.8,-30,
  57.9,6, 57.9,-15, 58.85,-40, 60.2,20, 60.35,-32
]

const panels = [
  { title: 'Mammograms and procrastination (P = 0.020)', red: true, yName: 'Prob(Mammograms)',
    yes: mamYes, no: mamNo, fx: fitX, fit: mamFit, lo: mamLo, hi: mamHi,
    left: 168, top: 176, width: 1273, xMin: -1.92, xMax: 63.05, cx: 805 },
  { title: 'Cholesterol screenings and procrastination (P = 0.054)', red: true, yName: 'Prob(Cholesterol screnings)',
    yes: cholYes, no: cholNo, fx: fitX, fit: cholFit, lo: cholLo, hi: cholHi,
    left: 1604.5, top: 176, width: 1267, xMin: -1.97, xMax: 63.0, cx: 2241 },
  { title: 'Pap smears and procrastination (P = 0.279)', red: false, yName: 'Prob(Pap smears)',
    yes: papYes, no: papNo, fx: fitX, fit: papFit, lo: papLo, hi: papHi,
    left: 168, top: 1065, width: 1273, xMin: -1.92, xMax: 63.05, cx: 805 },
  { title: 'Flu shots and procrastination (P = 0.222)', red: false, yName: 'Prob(Flu shots)',
    yes: fluYes, no: fluNo, fx: fluFitX, fit: fluFit, lo: fluLo, hi: fluHi,
    left: 1604.5, top: 1065, width: 1273, xMin: -2.36, xMax: 63.34, cx: 2241 }
]

const FONT = 'Liberation Sans'
const RED = '#DC143C'

function jitter(arr, base) {
  const out = []
  for (let i = 0; i < arr.length; i += 2) {
    out.push([arr[i], base + arr[i + 1] / 1000])
  }
  return out
}

function gridLines() {
  const minor = { color: '#EBEBEB', width: 1.6, type: 'solid' }
  const major = { color: '#D4D4D4', width: 2.7, type: 'solid' }
  const data = []
  xMinor.forEach(v => data.push({ xAxis: v, lineStyle: minor }))
  yMinor.forEach(v => data.push({ yAxis: v, lineStyle: minor }))
  xTicks.forEach(v => data.push({ xAxis: v, lineStyle: major }))
  yTicks.forEach(v => data.push({ yAxis: v, lineStyle: major }))
  return data
}

// confidence band: upper edge left->right, lower edge back
function ribbon(p) {
  return function (params, api) {
    const pts = []
    p.fx.forEach((x, k) => pts.push(api.coord([x, p.hi[k]])))
    for (let k = p.fx.length - 1; k >= 0; k--) pts.push(api.coord([p.fx[k], p.lo[k]]))
    return {
      type: 'polygon',
      shape: { points: pts },
      style: { fill: 'rgba(153,153,153,0.4)' },
      silent: true
    }
  }
}

const grids = []
const xAxes = []
const yAxes = []
const series = []
const graphics = []

panels.forEach((p, i) => {
  grids.push({
    left: p.left, top: p.top, width: p.width, height: 632,
    show: true, backgroundColor: '#fff', borderColor: '#333', borderWidth: 1.5,
    containLabel: false, outerBoundsMode: 'none'
  })
  xAxes.push({
    type: 'value', gridIndex: i, min: p.xMin, max: p.xMax,
    axisLine: { show: false, onZero: false },
    axisTick: { show: true, length: 8, lineStyle: { color: '#333', width: 2 }, customValues: xTicks },
    axisLabel: { customValues: xTicks, color: '#4D4D4D', fontSize: 30, fontFamily: FONT, margin: 18 },
    splitLine: { show: false },
    name: 'Procrastination', nameLocation: 'middle', nameGap: 58,
    nameTextStyle: { color: '#000', fontSize: 38, fontFamily: FONT }
  })
  yAxes.push({
    type: 'value', gridIndex: i, min: -0.101, max: 1.102,
    axisLine: { show: false, onZero: false },
    axisTick: { show: true, length: 8, lineStyle: { color: '#333', width: 2 }, customValues: yTicks },
    axisLabel: { customValues: yTicks, color: '#4D4D4D', fontSize: 30, fontFamily: FONT, margin: 16,
      formatter: v => v.toFixed(2) },
    splitLine: { show: false },
    name: p.yName, nameLocation: 'middle', nameGap: 89, nameRotate: 90,
    nameTextStyle: { color: '#000', fontSize: 38, fontFamily: FONT }
  })

  // grid lines sit on the bottom layer, data marks on a layer above
  series.push({
    type: 'line', xAxisIndex: i, yAxisIndex: i, data: [], z: 1, zlevel: 0, silent: true,
    markLine: { z: 1, zlevel: 0, silent: true, symbol: ['none', 'none'], label: { show: false }, animation: false, data: gridLines() }
  })
  series.push({
    type: 'custom', xAxisIndex: i, yAxisIndex: i, z: 2, zlevel: 1, silent: true,
    data: [[p.fx[0], p.fit[0]]], renderItem: ribbon(p)
  })
  series.push({
    type: 'line', xAxisIndex: i, yAxisIndex: i, z: 3, zlevel: 1, silent: true,
    data: p.fx.map((x, k) => [x, p.fit[k]]),
    symbol: 'none', smooth: 0.3, lineStyle: { color: '#1C8CFF', width: 5.5 }
  })
  series.push({
    type: 'scatter', xAxisIndex: i, yAxisIndex: i, z: 4, zlevel: 1, silent: true, progressive: 0,
    data: jitter(p.yes, 1).concat(jitter(p.no, 0)),
    symbolSize: 8.2,
    itemStyle: { color: 'rgba(0,0,0,0.55)', borderColor: 'rgba(0,0,0,0.62)', borderWidth: 1.5 }
  })

  const colour = p.red ? RED : '#000'
  graphics.push({
    type: 'text', x: p.cx, y: p.top - 99,
    style: { text: p.title, fontSize: 51, fontFamily: FONT, fill: colour, align: 'center', verticalAlign: 'middle' }
  })
  graphics.push({
    type: 'text', x: p.cx, y: p.top - 37,
    style: { text: 'Controlling for depression and age', fontSize: 39, fontStyle: 'italic', fontFamily: FONT,
      fill: colour, align: 'center', verticalAlign: 'middle' }
  })
})

const chart = echarts.init(document.getElementById('chart'))
chart.setOption({
  animation: false,
  backgroundColor: '#fff',
  grid: grids,
  xAxis: xAxes,
  yAxis: yAxes,
  series: series,
  graphic: graphics
})
</script>
</body>
</html>
